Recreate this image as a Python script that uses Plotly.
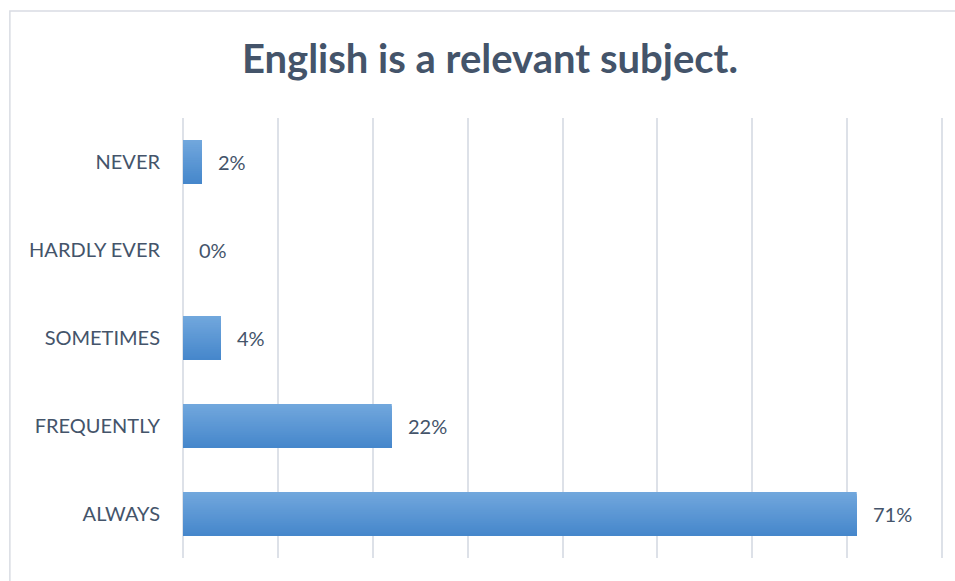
import plotly.graph_objects as go

# Survey answers for "English is a relevant subject." (percent of respondents)
categories = ["NEVER", "HARDLY EVER", "SOMETIMES", "FREQUENTLY", "ALWAYS"]
percentages = [2, 0, 4, 22, 71]
labels = [f"{v}%" for v in percentages]

TEXT_COLOR = "#44546a"
GRID_COLOR = "#dde1e8"
FONT = "Lato, Open Sans, sans-serif"
TOP_RGB = (0x71, 0xa7, 0xdd)
BOTTOM_RGB = (0x46, 0x87, 0xcb)

BAR_WIDTH = 0.5
N_BANDS = 24

fig = go.Figure()

# each bar gets a vertical light-to-dark gradient: stacked overlay layers,
# each starting a little lower and running to the bar's bottom edge
for i in range(N_BANDS):
    t = i / (N_BANDS - 1)
    rgb = tuple(round(a + (b - a) * t) for a, b in zip(TOP_RGB, BOTTOM_RGB))
    start = -BAR_WIDTH / 2 + i * BAR_WIDTH / N_BANDS
    fig.add_trace(go.Bar(
        x=percentages,
        y=categories,
        orientation="h",
        offset=start,
        width=BAR_WIDTH / 2 - start,
        marker=dict(color="rgb(%d,%d,%d)" % rgb, line=dict(width=0)),
        hoverinfo="skip",
    ))

# value labels placed just past the end of each bar
for cat, val, lab in zip(categories, percentages, labels):
    fig.add_annotation(
        x=val, y=cat, text=lab, showarrow=False,
        xanchor="left", yanchor="middle", xshift=14,
        font=dict(family=FONT, size=20, color=TEXT_COLOR),
    )

# light frame around the chart area
fig.add_shape(
    type="rect", xref="paper", yref="paper",
    x0=-0.2275, x1=1.2, y0=-0.2, y1=1.243,
    line=dict(color="#d9dce3", width=1.5), fillcolor="rgba(0,0,0,0)",
    layer="below",
)

fig.update_layout(
    width=955, height=581,
    margin=dict(l=183, r=11, t=118, b=23),
    paper_bgcolor="white", plot_bgcolor="white",
    barmode="overlay",
    showlegend=False,
    title=dict(
        text="<b>English is a relevant subject.</b>",
        x=0.513, xref="container", xanchor="center",
        y=0.898, yref="container", yanchor="middle",
        font=dict(family=FONT, size=40, color=TEXT_COLOR),
    ),
    xaxis=dict(
        range=[0, 80.2], dtick=10, tick0=0,
        showgrid=True, gridcolor=GRID_COLOR, gridwidth=1.5,
        zeroline=True, zerolinecolor=GRID_COLOR, zerolinewidth=1.5,
        showticklabels=False, showline=False,
        ticks="", fixedrange=True,
    ),
    yaxis=dict(
        categoryorder="array", categoryarray=categories,
        autorange="reversed",
        showgrid=False, zeroline=False, showline=False,
        ticks="", ticklabelstandoff=22,
        tickfont=dict(family=FONT, size=20, color=TEXT_COLOR),
    ),
)

fig.write_html("out.html")
